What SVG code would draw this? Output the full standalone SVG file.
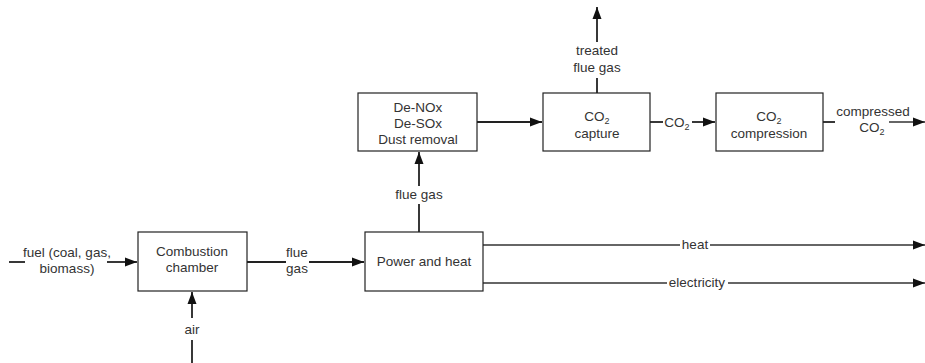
<svg xmlns="http://www.w3.org/2000/svg" width="925" height="363" viewBox="0 0 925 363">
<defs>
<marker id="arr" viewBox="0 0 12 10" refX="12" refY="5" markerWidth="12" markerHeight="10" markerUnits="userSpaceOnUse" orient="auto">
<path d="M0,0.5 L12,5 L0,9.5 Z" fill="#111"/>
</marker>
<style>
.box{fill:#fff;stroke:#222;stroke-width:1.2}
.ln{fill:none;stroke:#222;stroke-width:1.8}
.thin{fill:none;stroke:#333;stroke-width:1.3}
text{font-family:"Liberation Sans",Arial,sans-serif;font-size:13.5px;fill:#333;text-anchor:middle}
.sub{font-size:9px}
</style>
</defs>
<rect width="925" height="363" fill="#fff"/>
<g id="connectors">
<path class="ln" d="M9,262 H25"/>
<path class="ln" d="M107,262 H137" marker-end="url(#arr)"/>
<path class="ln" d="M247,262 H286"/>
<path class="ln" d="M309,262 H364" marker-end="url(#arr)"/>
<path class="ln" d="M192,363 V340"/>
<path class="ln" d="M192,318 V292" marker-end="url(#arr)"/>
<path class="ln" d="M419,232 V204"/>
<path class="ln" d="M419,186 V152" marker-end="url(#arr)"/>
<path class="ln" d="M477,122 H542" marker-end="url(#arr)"/>
<path class="ln" d="M597,93 V78"/>
<path class="ln" d="M597,42 V7" marker-end="url(#arr)"/>
<path class="ln" d="M650,122 H663"/>
<path class="ln" d="M692,122 H715" marker-end="url(#arr)"/>
<path class="ln" d="M823,122 H835"/>
<path class="thin" d="M889,122 H925" marker-end="url(#arr)"/>
<path class="thin" d="M483,245 H680"/>
<path class="thin" d="M710,245 H925" marker-end="url(#arr)"/>
<path class="thin" d="M483,283 H667"/>
<path class="thin" d="M728,283 H925" marker-end="url(#arr)"/>
<text x="67" y="257">fuel (coal, gas,</text>
<text x="67" y="273">biomass)</text>
<text x="297" y="257">flue</text>
<text x="297" y="273">gas</text>
<text x="192" y="334">air</text>
<text x="419" y="199">flue gas</text>
<text x="597" y="55">treated</text>
<text x="597" y="72">flue gas</text>
<text x="677" y="127">CO<tspan class="sub" dy="3">2</tspan></text>
<text x="873" y="116">compressed</text>
<text x="872" y="132">CO<tspan class="sub" dy="3">2</tspan></text>
<text x="695" y="249">heat</text>
<text x="697" y="287">electricity</text>
</g>
<g id="combustion">
<rect class="box" x="138" y="232" width="109" height="59"/>
<text x="192" y="256">Combustion</text>
<text x="192" y="272">chamber</text>
</g>
<g id="power">
<rect class="box" x="365" y="232" width="118" height="59"/>
<text x="424" y="266">Power and heat</text>
</g>
<g id="denox">
<rect class="box" x="358" y="93" width="119" height="58"/>
<text x="418" y="112">De-NOx</text>
<text x="418" y="128">De-SOx</text>
<text x="418" y="144">Dust removal</text>
</g>
<g id="capture">
<rect class="box" x="543" y="93" width="107" height="58"/>
<text x="597" y="121">CO<tspan class="sub" dy="3">2</tspan></text>
<text x="597" y="138">capture</text>
</g>
<g id="compression">
<rect class="box" x="716" y="93" width="107" height="58"/>
<text x="769" y="121">CO<tspan class="sub" dy="3">2</tspan></text>
<text x="769" y="138">compression</text>
</g>
</svg>
